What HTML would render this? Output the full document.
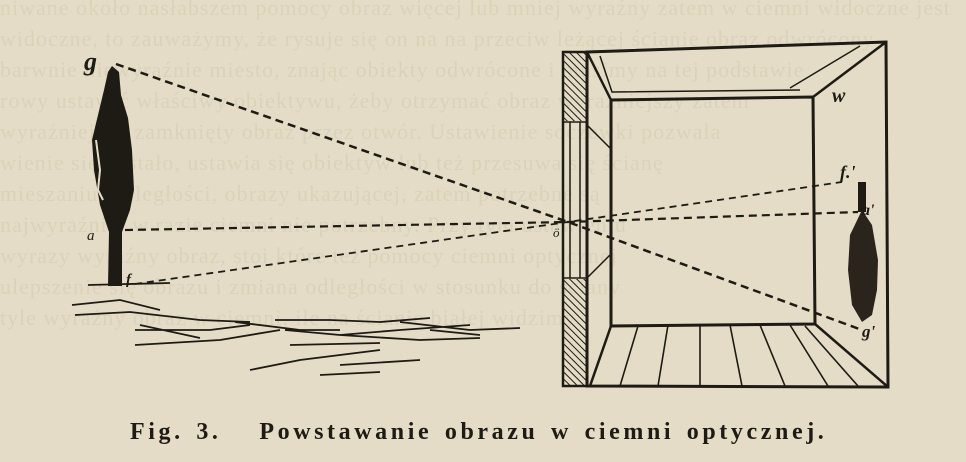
<!DOCTYPE html>
<html><head><meta charset="utf-8"><style>
html,body{margin:0;padding:0}
body{width:966px;height:462px;background:#e4dcc6;overflow:hidden;position:relative;font-family:"Liberation Serif",serif}
.bg{position:absolute;left:0;top:-8px;width:966px;height:462px;overflow:hidden;color:#dbd2bb;font-size:22px;line-height:31px;white-space:nowrap;letter-spacing:1px}
.cap{position:absolute;left:130px;top:419px;font-family:"Liberation Serif",serif;font-weight:bold;font-size:24px;color:#1e1a14;letter-spacing:3.6px;word-spacing:3px;white-space:nowrap}
svg{position:absolute;left:0;top:0}
</style></head><body>
<div class="bg">niwane około nasłabszem pomocy obraz więcej lub mniej wyraźny zatem w ciemni widoczne jest<br>widoczne, to zauważymy, że rysuje się on na na przeciw leżącej ścianie obraz odwrócony<br>barwnie niewyraźnie miesto, znając obiekty odwrócone i musimy na tej podstawie<br>rowy ustawić właściwy obiektywu, żeby otrzymać obraz wyraźniejszy zatem<br>wyraźniejszy zamknięty obraz przez otwór. Ustawienie soczewki pozwala<br>wienie się zostało, ustawia się obiektyw lub też przesuwa się ścianę<br>mieszaniu, odległości, obrazy ukazującej, zatem potrzebne są<br>najwyraźniej w razie ciemni nie potrzebny. Przy tym ustawieniu<br>wyrazy wyraźny obraz, stoi które też pomocy ciemni optycznej<br>ulepszenie się obrazu i zmiana odległości w stosunku do ściany<br>tyle wyraźny obraz w ciemni, ile na ścianie białej widzimy</div>
<svg width="966" height="462" viewBox="0 0 966 462">
<g fill="none" stroke="#1e1a14">
<path d="M116 64 L568 222 L862 330" stroke-width="2.5" stroke-dasharray="8 5"/>
<path d="M125 230 L568 222 L858 212" stroke-width="2.2" stroke-dasharray="8 5"/>
<path d="M135 284 L568 222 L842 182" stroke-width="1.8" stroke-dasharray="7 5"/>
<path d="M587 52 L886 42 L888 387 L587 386 Z" stroke-width="3"/>
<path d="M611 100 L813 97 L815 324 L611 326 Z" stroke-width="3"/>
<path d="M587 52 L611 100 M813 97 L886 42 M815 324 L888 387 M611 326 L590 386" stroke-width="2.5"/>
<path d="M600 56 L612 92 L800 90 M790 88 L860 46" stroke-width="1.5"/>
<path d="M587 125 L610 148 M587 278 L610 255" stroke-width="1.5"/>
<path d="M638 326 L620 386 M668 325 L658 386 M700 325 L700 386 M730 325 L742 386 M760 325 L785 386 M790 325 L828 386 M805 326 L858 386" stroke-width="1.6"/>
<rect x="563" y="52" width="24" height="334" stroke-width="2.5"/>
<path d="M563 122 L587 122 M563 278 L587 278 M570 122 L570 278 M580 122 L580 278" stroke-width="1.5"/>
</g>
<defs><pattern id="h" width="5" height="5" patternUnits="userSpaceOnUse" patternTransform="rotate(-45)"><line x1="0" y1="0" x2="0" y2="5" stroke="#1e1a14" stroke-width="2"/></pattern></defs>
<rect x="564" y="53" width="22" height="68" fill="url(#h)"/>
<rect x="564" y="279" width="22" height="106" fill="url(#h)"/>
<path d="M112 66 L119 72 L121 95 L128 118 L132 150 L134 190 L130 210 L122 232 L122 286 L108 286 L109 232 L100 205 L94 170 L92 140 L98 115 L104 90 L108 72 Z" fill="#1e1a14"/>
<path d="M96 140 L100 170 L98 190 L103 200" stroke="#e4dcc6" stroke-width="2" fill="none"/>
<rect x="858" y="182" width="8" height="30" fill="#1e1a14"/>
<path d="M862 210 L872 225 L878 260 L877 290 L872 315 L862 322 L852 305 L848 270 L850 235 Z" fill="#2a241c"/>
<g stroke="#1e1a14" stroke-width="1.8" fill="none">
<path d="M88 285 L170 283 M72 305 L120 300 L160 310 M75 315 L130 312 L200 320 L250 322 M140 325 L200 338 M135 330 L210 330 L250 325 M135 345 L220 340 L280 330 M235 322 L300 330 L340 330 M275 320 L330 320 L380 322 L430 318 M285 330 L340 335 L400 330 L470 325 M290 345 L380 343 M340 335 L420 340 L480 338 M400 322 L470 330 L520 328 M250 370 L300 360 L380 350 M430 330 L480 335 M320 375 L380 372 M340 365 L420 360"/>
</g>
<g fill="#1e1a14" font-family="Liberation Serif,serif" font-style="italic" font-weight="bold">
<text x="84" y="70" font-size="26">g</text>
<text x="87" y="240" font-size="15" font-weight="normal">a</text>
<text x="126" y="284" font-size="15">f</text>
<text x="553" y="237" font-size="13" font-weight="normal">ö</text>
<text x="832" y="102" font-size="20">w</text>
<text x="840" y="178" font-size="18">f.'</text>
<text x="862" y="215" font-size="16">a'</text>
<text x="862" y="337" font-size="17">g'</text>
</g>
</svg>
<div class="cap">Fig. 3.&nbsp;&nbsp; Powstawanie obrazu w ciemni optycznej.</div>
</body></html>
